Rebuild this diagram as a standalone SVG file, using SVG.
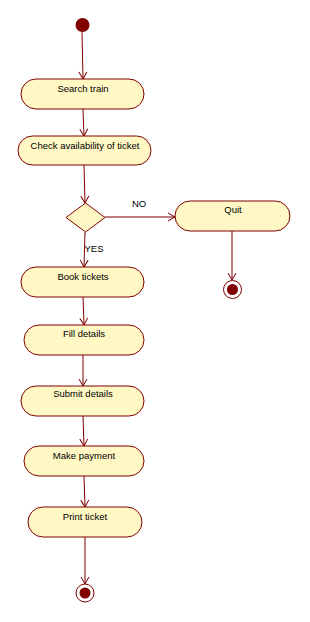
<svg xmlns="http://www.w3.org/2000/svg" width="310" height="622" viewBox="0 0 310 622">
<style>
.act{fill:#FFF8C4;stroke:#800000;stroke-width:1}
.lbl{font-family:"Liberation Sans",Arial,sans-serif;font-size:9.5px;fill:#000;text-anchor:middle}
.edge{stroke:#800000;stroke-width:1;fill:none}
.start{fill:#800000}
</style>
<defs>
<marker id="arr" markerWidth="10" markerHeight="10" refX="8" refY="5" orient="auto" markerUnits="userSpaceOnUse">
<path d="M1,1 L8,5 L1,9" fill="none" stroke="#800000" stroke-width="1"/>
</marker>
</defs>
<rect width="310" height="622" fill="#fff"/>
<g id="connectors">
<line class="edge" x1="82" y1="32" x2="83" y2="79" marker-end="url(#arr)"/>
<line class="edge" x1="83" y1="109" x2="84" y2="136" marker-end="url(#arr)"/>
<line class="edge" x1="84" y1="165" x2="85" y2="203" marker-end="url(#arr)"/>
<line class="edge" x1="105" y1="217" x2="175" y2="217" marker-end="url(#arr)"/>
<line class="edge" x1="232" y1="231" x2="232" y2="280" marker-end="url(#arr)"/>
<line class="edge" x1="85" y1="232" x2="84" y2="267" marker-end="url(#arr)"/>
<line class="edge" x1="83" y1="297" x2="84" y2="325" marker-end="url(#arr)"/>
<line class="edge" x1="83" y1="355" x2="83" y2="386" marker-end="url(#arr)"/>
<line class="edge" x1="83" y1="416" x2="84" y2="446" marker-end="url(#arr)"/>
<line class="edge" x1="84" y1="476" x2="85" y2="507" marker-end="url(#arr)"/>
<line class="edge" x1="85" y1="537" x2="85" y2="584" marker-end="url(#arr)"/>
<text class="lbl" x="139" y="207">NO</text>
<text class="lbl" x="94" y="252">YES</text>
</g>
<g id="start"><circle class="start" cx="82.5" cy="25" r="7"/></g>
<g id="search"><rect class="act" x="21" y="79" width="123" height="30" rx="15"/><text class="lbl" x="83" y="92">Search train</text></g>
<g id="check"><rect class="act" x="18" y="136" width="133" height="29" rx="14.5"/><text class="lbl" x="85" y="149">Check availability of ticket</text></g>
<g id="decision"><polygon class="act" points="85.5,203 105,217.5 85.5,232 66,217.5"/></g>
<g id="quit"><rect class="act" x="175" y="201" width="115" height="30" rx="15"/><text class="lbl" x="233" y="213">Quit</text></g>
<g id="end1"><circle cx="232.5" cy="289.5" r="9" fill="#fff" stroke="#800000"/><circle cx="232.5" cy="289.5" r="5.5" fill="#800000"/></g>
<g id="book"><rect class="act" x="21" y="267" width="123" height="30" rx="15"/><text class="lbl" x="83" y="280">Book tickets</text></g>
<g id="fill"><rect class="act" x="24" y="325" width="120" height="30" rx="15"/><text class="lbl" x="84" y="337">Fill details</text></g>
<g id="submit"><rect class="act" x="21" y="386" width="123" height="30" rx="15"/><text class="lbl" x="83" y="397">Submit details</text></g>
<g id="pay"><rect class="act" x="24" y="446" width="120" height="30" rx="15"/><text class="lbl" x="84" y="459">Make payment</text></g>
<g id="print"><rect class="act" x="28" y="507" width="114" height="30" rx="15"/><text class="lbl" x="85" y="520">Print ticket</text></g>
<g id="end2"><circle cx="85" cy="593" r="9" fill="#fff" stroke="#800000"/><circle cx="85" cy="593" r="5.5" fill="#800000"/></g>
</svg>
